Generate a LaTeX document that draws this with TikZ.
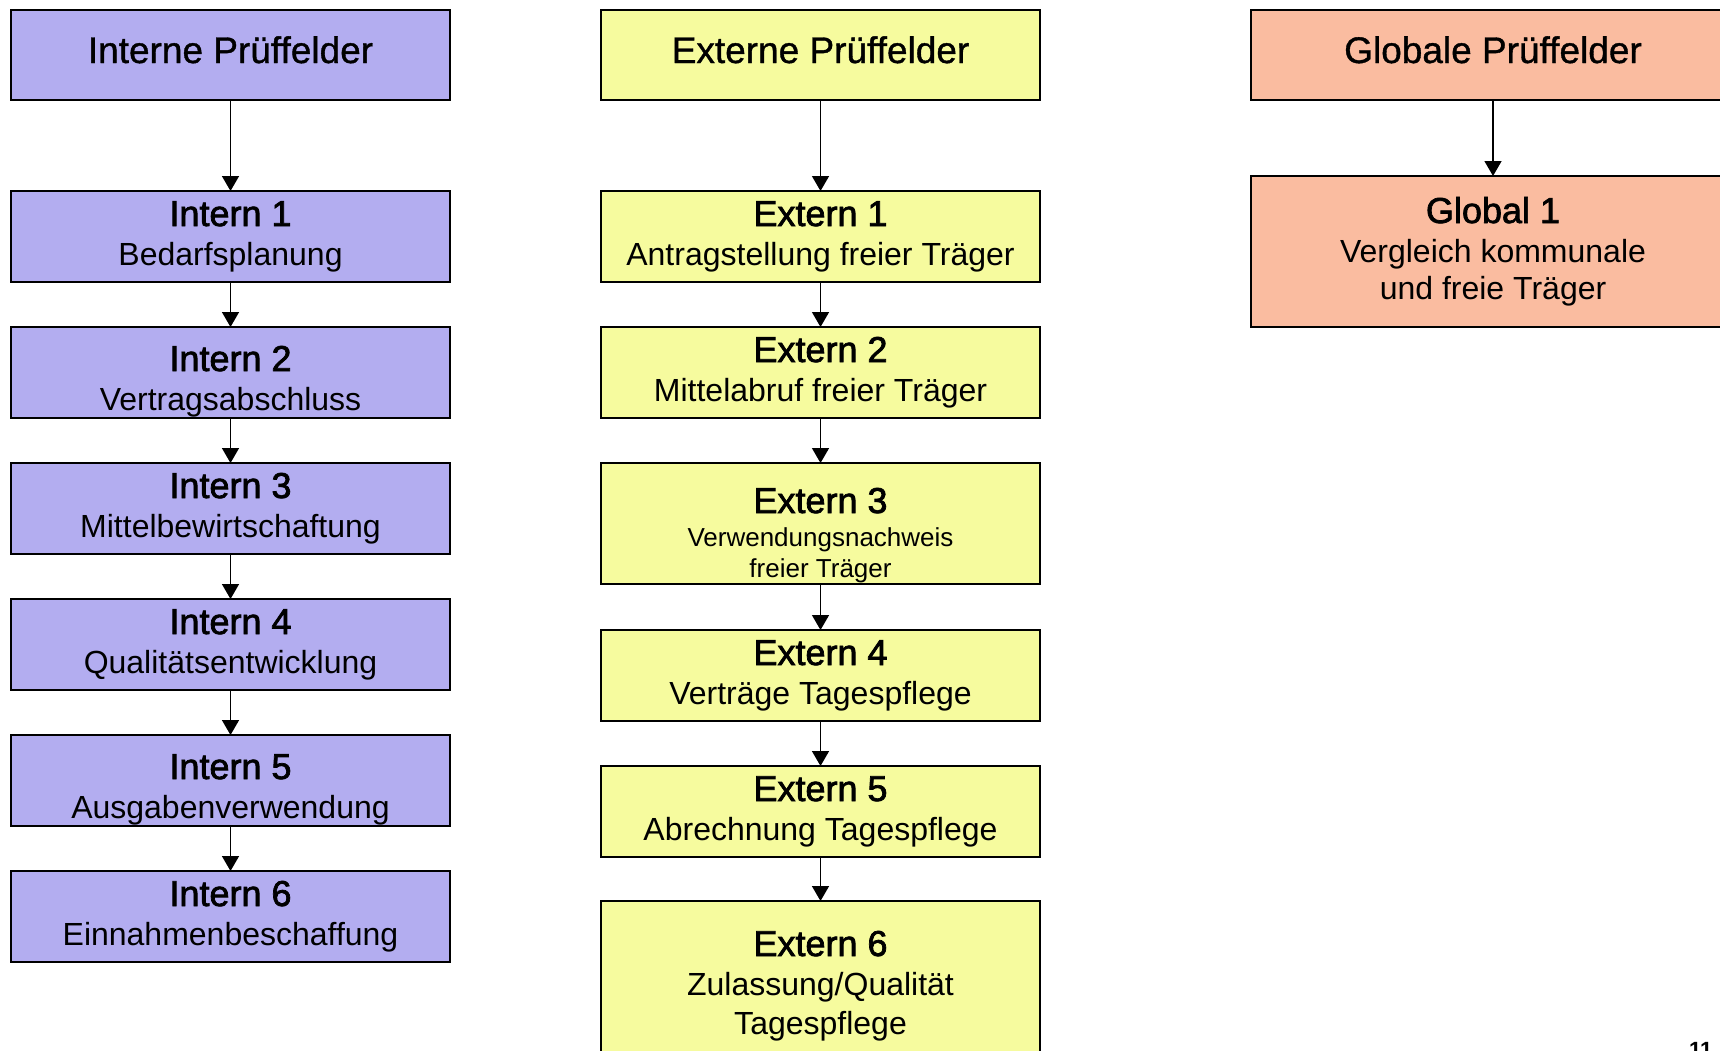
\documentclass[tikz,border=0pt]{standalone}
\usepackage{fontspec}
\setmainfont{Liberation Sans}
\newfontfamily\titlefont{Liberation Sans}[FakeBold=2]
\newfontfamily\headfont{Liberation Sans}[FakeBold=1]
\usetikzlibrary{positioning,arrows.meta}

\definecolor{internfill}{RGB}{179,173,240}
\definecolor{externfill}{RGB}{246,251,158}
\definecolor{globalfill}{RGB}{250,188,160}

\newcommand{\fieldtitle}[1]{{\titlefont\fontsize{36}{39}\selectfont #1}}

\begin{document}
\begin{tikzpicture}[
	x=1pt, y=-1pt,
	head/.style={
		rectangle, draw=black, line width=2pt,
		minimum width=439pt, inner sep=0pt, outer sep=0pt, align=center,
		text height=53pt, text depth=37pt,
		font=\headfont\fontsize{37}{44}\selectfont
	},
	block/.style={
		rectangle, draw=black, line width=2pt,
		minimum width=439pt, inner sep=0pt, outer sep=0pt, align=center,
		text height=74pt, text depth=17pt,
		font=\fontsize{32}{39}\selectfont
	},
	line/.style={draw, line width=1.5pt, -{Triangle[width=17pt,length=15pt]}},
	]
	\useasboundingbox (0,0) rectangle (1720,1050);

	% column headers
	\node [head, fill=internfill] (ihead) at (230.5,55) {Interne Prüffelder};
	\node [head, fill=externfill] (ehead) at (820.5,55) {Externe Prüffelder};
	\node [head, fill=globalfill, minimum width=484pt] (ghead) at (1493,55) {Globale Prüffelder};

	% interne
	\node [block, fill=internfill, below=91pt of ihead] (i1) {\fieldtitle{Intern 1}\\Bedarfsplanung};
	\node [block, fill=internfill, below=45pt of i1, text height=83pt, text depth=8pt] (i2) {\fieldtitle{Intern 2}\\Vertragsabschluss};
	\node [block, fill=internfill, below=45pt of i2] (i3) {\fieldtitle{Intern 3}\\Mittelbewirtschaftung};
	\node [block, fill=internfill, below=45pt of i3] (i4) {\fieldtitle{Intern 4}\\Qualitätsentwicklung};
	\node [block, fill=internfill, below=45pt of i4, text height=83pt, text depth=8pt] (i5) {\fieldtitle{Intern 5}\\Ausgabenverwendung};
	\node [block, fill=internfill, below=45pt of i5] (i6) {\fieldtitle{Intern 6}\\Einnahmenbeschaffung};

	% externe
	\node [block, fill=externfill, below=91pt of ehead] (e1) {\fieldtitle{Extern 1}\\Antragstellung freier Träger};
	\node [block, fill=externfill, below=45pt of e1] (e2) {\fieldtitle{Extern 2}\\Mittelabruf freier Träger};
	\node [block, fill=externfill, below=45pt of e2, text height=114pt, text depth=7pt,
		font=\fontsize{26}{31}\selectfont] (e3) {\fieldtitle{Extern 3}\\[2pt]Verwendungsnachweis\\freier Träger};
	\node [block, fill=externfill, below=46pt of e3] (e4) {\fieldtitle{Extern 4}\\Verträge Tagespflege};
	\node [block, fill=externfill, below=45pt of e4] (e5) {\fieldtitle{Extern 5}\\Abrechnung Tagespflege};
	\node [block, fill=externfill, below=44pt of e5, text height=133pt, text depth=27pt] (e6) {\fieldtitle{Extern 6}\\Zulassung/Qualität\\Tagespflege};

	% globale
	\node [block, fill=globalfill, minimum width=484pt, below=76pt of ghead,
		text height=123pt, text depth=28pt] (g1) {\fieldtitle{Global 1}\\Vergleich kommunale\\[-2pt]und freie Träger};

	\node [anchor=north west, inner sep=0pt, font=\fontsize{22}{22}\selectfont\bfseries] (pagenum) at (1689,1042) {11};

	\path [line] (ihead) -- (i1);
	\path [line] (i1) -- (i2);
	\path [line] (i2) -- (i3);
	\path [line] (i3) -- (i4);
	\path [line] (i4) -- (i5);
	\path [line] (i5) -- (i6);
	\path [line] (ehead) -- (e1);
	\path [line] (e1) -- (e2);
	\path [line] (e2) -- (e3);
	\path [line] (e3) -- (e4);
	\path [line] (e4) -- (e5);
	\path [line] (e5) -- (e6);
	\path [line] (ghead) -- (g1);
\end{tikzpicture}
\end{document}
